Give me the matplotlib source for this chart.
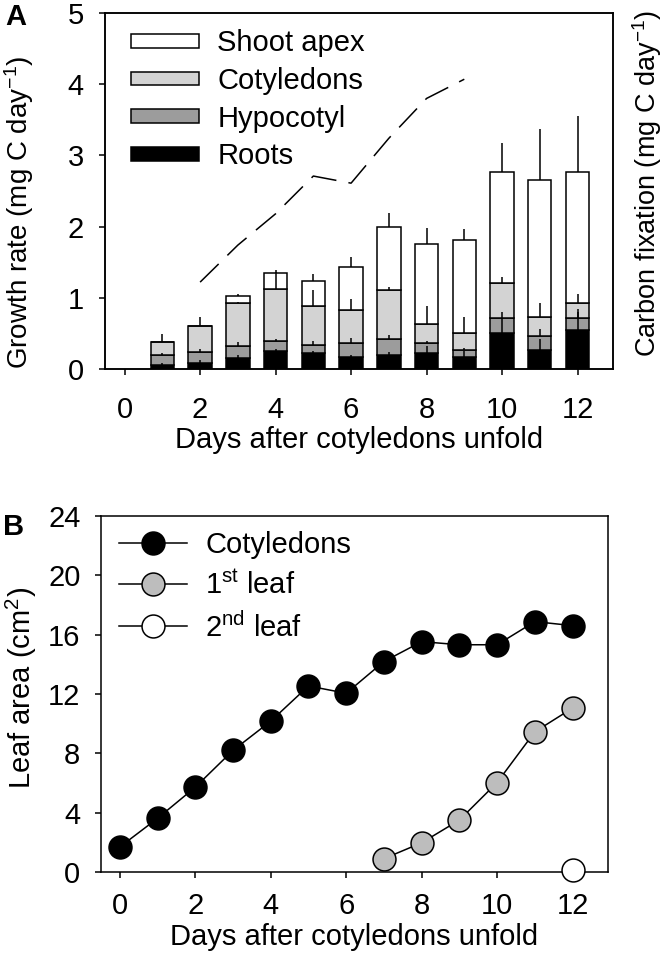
import matplotlib
matplotlib.use("Agg")
import matplotlib.pyplot as plt
from matplotlib.patches import Patch

plt.rcParams['font.family'] = ['Liberation Sans', 'DejaVu Sans']
plt.rcParams['mathtext.fontset'] = 'custom'
plt.rcParams['mathtext.rm'] = 'Liberation Sans'
plt.rcParams['mathtext.it'] = 'Liberation Sans:italic'
plt.rcParams['mathtext.bf'] = 'Liberation Sans:bold'

# ---------------- data: panel A ----------------
days_a = [1, 2, 3, 4, 5, 6, 7, 8, 9, 10, 11, 12]
roots = [0.06, 0.08, 0.15, 0.25, 0.22, 0.17, 0.20, 0.23, 0.17, 0.50, 0.27, 0.55]
hypocotyl = [0.14, 0.16, 0.17, 0.14, 0.12, 0.19, 0.22, 0.14, 0.09, 0.22, 0.19, 0.17]
cotyledons = [0.18, 0.37, 0.60, 0.74, 0.54, 0.47, 0.69, 0.26, 0.24, 0.49, 0.27, 0.21]
shoot_apex = [0.00, 0.00, 0.10, 0.22, 0.35, 0.60, 0.89, 1.13, 1.31, 1.56, 1.93, 1.83]
roots_err = [0.02, 0.04, 0.04, 0.03, 0.03, 0.03, 0.04, 0.10, 0.08, 0.22, 0.15, 0.25]
hypocotyl_err = [0.03, 0.04, 0.06, 0.03, 0.05, 0.08, 0.06, 0.03, 0.04, 0.08, 0.10, 0.12]
cotyledons_err = [0.11, 0.12, 0.02, 0.23, 0.23, 0.15, 0.04, 0.25, 0.23, 0.08, 0.19, 0.12]
shoot_apex_err = [0.00, 0.00, 0.04, 0.04, 0.10, 0.14, 0.19, 0.22, 0.15, 0.40, 0.71, 0.79]

days_c = [2, 3, 4, 5, 6, 7, 8, 9]
carbon_fix = [1.22, 1.74, 2.18, 2.71, 2.61, 3.24, 3.80, 4.07]

# ---------------- data: panel B ----------------
days_b = [0, 1, 2, 3, 4, 5, 6, 7, 8, 9, 10, 11, 12]
cot_area = [1.69, 3.62, 5.72, 8.20, 10.17, 12.54, 12.05, 14.19, 15.53, 15.32, 15.32, 16.88, 16.61]
days_l1 = [7, 8, 9, 10, 11, 12]
leaf1_area = [0.90, 1.97, 3.50, 6.03, 9.45, 11.05]
days_l2 = [12]
leaf2_area = [0.11]

xticks = [0, 2, 4, 6, 8, 10, 12]
yticks_a = [0, 1, 2, 3, 4, 5]
yticks_b = [0, 4, 8, 12, 16, 20, 24]

FS = 21
FS_YL = 20
FS_YR = 19.5
LW = 1.1
TL = 4.3
col_shoot, col_cot, col_hyp, col_root = 'white', '#d3d3d3', '#9c9c9c', 'black'

fig = plt.figure(figsize=(6.64, 9.68), dpi=100)
W, H = 664, 968

def fr(l, r, t, b):
    return [l / W, 1 - b / H, (r - l) / W, (b - t) / H]

# ================= Panel A =================
ax = fig.add_axes(fr(105, 613, 13, 369))
segments = [(roots, roots_err, col_root, 'Roots'),
            (hypocotyl, hypocotyl_err, col_hyp, 'Hypocotyl'),
            (cotyledons, cotyledons_err, col_cot, 'Cotyledons'),
            (shoot_apex, shoot_apex_err, col_shoot, 'Shoot apex')]
bottom = [0.0] * len(days_a)
bw = 0.62
for vals, errs, col, lab in segments:
    ax.bar(days_a, vals, bw, bottom=bottom, color=col, edgecolor='black',
           linewidth=LW, zorder=2)
    tops = [b + v for b, v in zip(bottom, vals)]
    for d, t, e, v in zip(days_a, tops, errs, vals):
        if e > 0 and (v > 0 or col == col_cot):
            ax.plot([d, d], [t, t + e], color='black', lw=LW, zorder=3,
                    solid_capstyle='butt')
    bottom = tops

ax2 = ax.twinx()
ax2.set_ylim(0, 5)
ax2.plot(days_c, carbon_fix, color='black', lw=LW, linestyle=(0, (17, 8)), zorder=4)
ax2.set_yticks([])
ax2.set_ylabel('Carbon fixation (mg C day$^{-1}$)', fontsize=FS_YR)
ax2.yaxis.set_label_coords(1.034, 0.522)
for s in ax2.spines.values():
    s.set_linewidth(LW)

ax.set_xlim(-0.52, 12.94)
ax.set_ylim(0, 5)
ax.set_xticks(xticks)
ax.set_yticks(yticks_a)
ax.tick_params(axis='x', direction='out', length=TL, width=LW, labelsize=FS, pad=15.5)
ax.tick_params(axis='y', direction='out', length=TL, width=LW, labelsize=FS, pad=11)
for s in ax.spines.values():
    s.set_linewidth(LW)
ax.set_xlabel('Days after cotyledons unfold', fontsize=FS, va='top')
ax.xaxis.set_label_coords(0.5, -0.16)
ax.set_ylabel('Growth rate (mg C day$^{-1}$)', fontsize=FS_YL)
ax.yaxis.set_label_coords(-0.135, 0.44)

handles = [Patch(facecolor=c, edgecolor='black', linewidth=LW, label=l)
           for _, _, c, l in segments[::-1]]
ax.legend(handles=handles, loc='upper left', bbox_to_anchor=(0.051, 0.954),
          frameon=False, fontsize=FS, handlelength=2.34, handleheight=0.345,
          handletextpad=0.62, labelspacing=0.33, borderpad=0, borderaxespad=0)

fig.text(5 / W, 1 - 17 / H, 'A', fontsize=FS, fontweight='bold', va='center', ha='left')

# ================= Panel B =================
bx = fig.add_axes(fr(101, 608, 516, 872))
ms = 16.5
mew = 1.1
bx.plot(days_b, cot_area, '-o', color='black', lw=LW, markersize=ms,
        markerfacecolor='black', markeredgecolor='black', markeredgewidth=mew,
        clip_on=False, zorder=3, label='Cotyledons')
bx.plot(days_l1, leaf1_area, '-o', color='black', lw=LW, markersize=ms,
        markerfacecolor='#bdbdbd', markeredgecolor='black', markeredgewidth=mew,
        clip_on=False, zorder=3, label='1$^{\\mathrm{st}}$ leaf')
bx.plot(days_l2, leaf2_area, '-o', color='black', lw=LW, markersize=ms,
        markerfacecolor='white', markeredgecolor='black', markeredgewidth=mew,
        clip_on=False, zorder=5, label='2$^{\\mathrm{nd}}$ leaf')
bx.set_xlim(-0.5, 12.94)
bx.set_ylim(0, 24)
bx.set_xticks(xticks)
bx.set_yticks(yticks_b)
bx.tick_params(axis='x', direction='out', length=TL, width=LW, labelsize=FS, pad=10)
bx.tick_params(axis='y', direction='out', length=TL, width=LW, labelsize=FS, pad=10.5)
for s in bx.spines.values():
    s.set_linewidth(LW)
bx.set_xlabel('Days after cotyledons unfold', fontsize=FS, va='top')
bx.xaxis.set_label_coords(0.5, -0.143)
bx.set_ylabel('Leaf area (cm$^{2}$)', fontsize=FS)
bx.yaxis.set_label_coords(-0.122, 0.517)
bx.legend(loc='upper left', bbox_to_anchor=(0.0355, 0.958), frameon=False,
          fontsize=FS, handlelength=2.34, handletextpad=0.62, labelspacing=0.41,
          borderpad=0, borderaxespad=0)

fig.text(3 / W, 1 - 527 / H, 'B', fontsize=FS, fontweight='bold', va='center', ha='left')

fig.savefig('out.png', dpi=100)
